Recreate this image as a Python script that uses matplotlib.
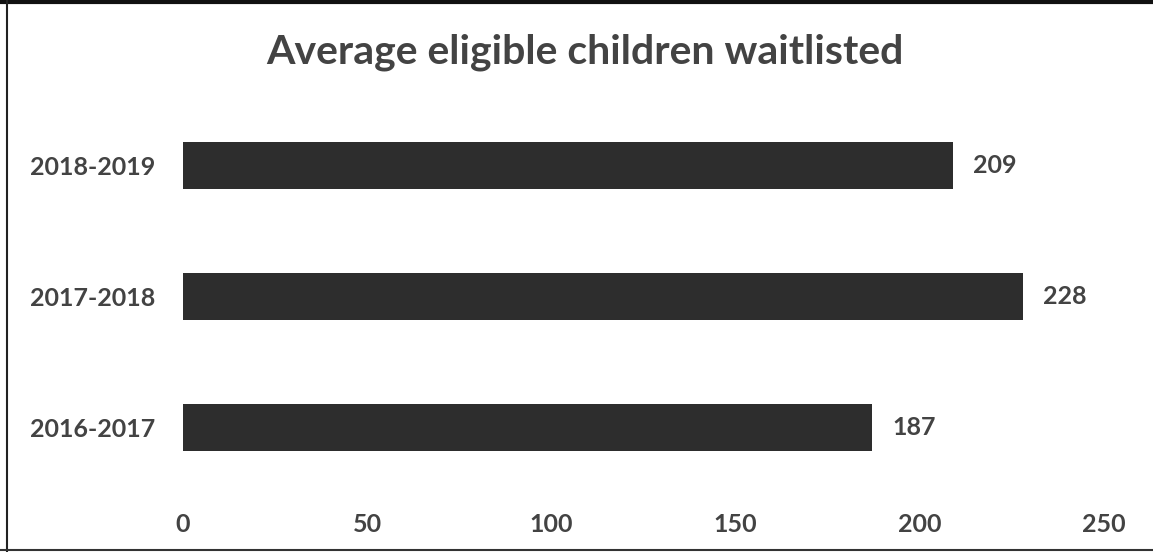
import matplotlib
matplotlib.use("Agg")
import matplotlib.pyplot as plt
from matplotlib.lines import Line2D

categories = ["2016-2017", "2017-2018", "2018-2019"]
values = [187, 228, 209]
xticks = [0, 50, 100, 150, 200, 250]
title = "Average eligible children waitlisted"

text_color = "#434343"
bar_color = "#2d2d2d"

plt.rcParams["font.family"] = ["Lato", "DejaVu Sans"]

fig = plt.figure(figsize=(11.53, 5.52), dpi=100)
ax = fig.add_axes([183 / 1153, 1 - 500 / 552, (1104 - 183) / 1153, (500 - 100) / 552])

y = list(range(len(categories)))
ax.barh(y, values, height=0.36, color=bar_color, zorder=2)
for yi, v in zip(y, values):
    ax.text(v + 5.5, yi, str(v), va="center", ha="left", fontsize=18,
            color=text_color, fontweight="bold")

ax.set_xlim(0, 250)
ax.set_ylim(-0.55, 2.5)
ax.set_xticks(xticks)
ax.set_xticklabels([str(t) for t in xticks])
ax.set_yticks(y)
ax.set_yticklabels(categories)
ax.tick_params(axis="both", length=0, labelsize=18, colors=text_color)
ax.tick_params(axis="x", pad=9)
ax.tick_params(axis="y", pad=20)
for lbl in ax.get_xticklabels() + ax.get_yticklabels():
    lbl.set_fontweight("bold")
for s in ax.spines.values():
    s.set_visible(False)

fig.text(585 / 1153, 1 - 52 / 552, title, ha="center", va="center",
         fontsize=29.5, color=text_color, fontweight="bold")

# outer frame: top, left, bottom edges
fig.add_artist(Line2D([0, 1], [1 - 1.5 / 552, 1 - 1.5 / 552], transform=fig.transFigure,
                      color="#111111", lw=3))
fig.add_artist(Line2D([7 / 1153, 7 / 1153], [0, 1], transform=fig.transFigure,
                      color="#222222", lw=1.5))
fig.add_artist(Line2D([0, 1], [2 / 552, 2 / 552], transform=fig.transFigure,
                      color="#333333", lw=1.5))

fig.savefig("out.png", dpi=100, facecolor="white")
